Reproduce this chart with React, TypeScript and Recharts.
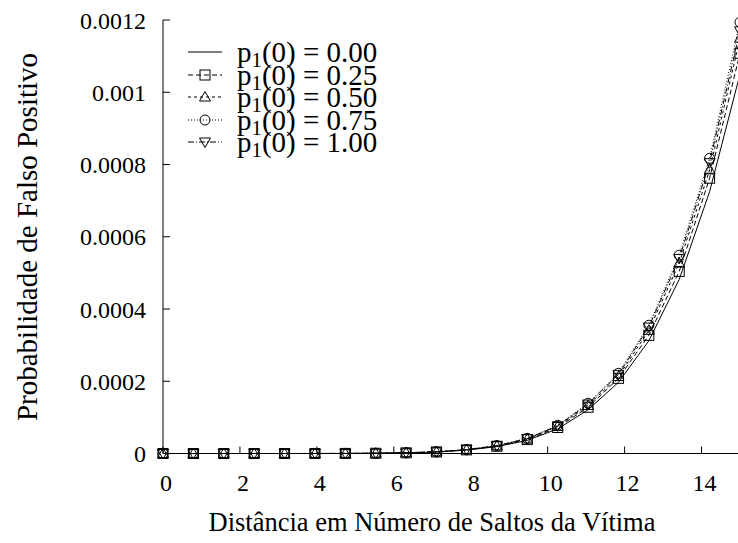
import { Label, Legend, Line, LineChart, XAxis, YAxis } from "recharts";

// distance (hops) at each sampled point
const hops = [
  0, 0.79, 1.58, 2.37, 3.16, 3.95, 4.74, 5.53, 6.32, 7.11, 7.89, 8.68, 9.47,
  10.26, 11.05, 11.84, 12.63, 13.42, 14.21, 15,
];

const p000 = [
  0, 0, 0, 0, 0, 0.00000004, 0.00000018, 0.0000006, 0.0000018, 0.000004,
  0.0000095, 0.000019, 0.0000365, 0.000068, 0.000121, 0.000197, 0.000312,
  0.000482, 0.000725, 0.00105,
];
const p025 = [
  0, 0, 0, 0, 0, 0.00000005, 0.0000002, 0.00000065, 0.0000019, 0.0000043,
  0.00001, 0.00002, 0.0000385, 0.000072, 0.000128, 0.000208, 0.000327,
  0.000504, 0.000762, 0.001108,
];
const p050 = [
  0, 0, 0, 0, 0, 0.00000005, 0.0000002, 0.0000007, 0.000002, 0.0000045,
  0.0000105, 0.000021, 0.00004, 0.000075, 0.000133, 0.000213, 0.000341,
  0.000527, 0.000785, 0.00115,
];
const p075 = [
  0, 0, 0, 0, 0, 0.00000005, 0.0000002, 0.0000007, 0.000002, 0.0000048,
  0.000011, 0.000022, 0.000042, 0.000078, 0.000139, 0.000222, 0.000355,
  0.000549, 0.000817, 0.001194,
];
const p100 = [
  0, 0, 0, 0, 0, 0.00000005, 0.0000002, 0.0000007, 0.000002, 0.0000047,
  0.0000108, 0.0000216, 0.0000412, 0.0000765, 0.000137, 0.000219, 0.00035,
  0.00054, 0.000805, 0.00117,
];

const xTicks = [0, 2, 4, 6, 8, 10, 12, 14];
const yTicks = [0, 0.0002, 0.0004, 0.0006, 0.0008, 0.001, 0.0012];

const data = hops.map((x, i) => ({
  x,
  p000: p000[i],
  p025: p025[i],
  p050: p050[i],
  p075: p075[i],
  p100: p100[i],
}));

const series = [
  { key: "p000", label: "0.00", dash: undefined, marker: "" },
  { key: "p025", label: "0.25", dash: "5 3", marker: "square" },
  { key: "p050", label: "0.50", dash: "3 3", marker: "triangle" },
  { key: "p075", label: "0.75", dash: "1 2", marker: "circle" },
  { key: "p100", label: "1.00", dash: "6 2 1 2", marker: "down" },
];

const FONT = "'Liberation Serif', 'Times New Roman', serif";

const Marker = ({ type, cx, cy }: { type: string; cx: number; cy: number }) => {
  const s = { fill: "none", stroke: "#000", strokeWidth: 1 };
  if (type === "square")
    return <rect x={cx - 5} y={cy - 5} width={10} height={10} {...s} />;
  if (type === "circle") return <circle cx={cx} cy={cy} r={5} {...s} />;
  if (type === "triangle")
    return (
      <polygon
        points={`${cx},${cy - 5.5} ${cx - 5.5},${cy + 4} ${cx + 5.5},${cy + 4}`}
        {...s}
      />
    );
  if (type === "down")
    return (
      <polygon
        points={`${cx},${cy + 5.5} ${cx - 5.5},${cy - 4} ${cx + 5.5},${cy - 4}`}
        {...s}
      />
    );
  return null;
};

const KeyBox = () => (
  <div style={{ fontFamily: FONT, fontSize: 29, color: "#000" }}>
    {series.map((s) => (
      <div
        key={s.key}
        style={{ display: "flex", alignItems: "center", height: 22.5 }}
      >
        <svg width={52} height={22} style={{ overflow: "visible" }}>
          <line
            x1={3}
            x2={37}
            y1={11}
            y2={11}
            stroke="#000"
            strokeWidth={1}
            strokeDasharray={s.dash}
          />
          <Marker type={s.marker} cx={20} cy={11} />
        </svg>
        <span style={{ lineHeight: "22.5px", whiteSpace: "nowrap" }}>
          p<sub style={{ fontSize: "0.72em", verticalAlign: "-0.25em", lineHeight: 0 }}>1</sub>
          (0) = {s.label}
        </span>
      </div>
    ))}
  </div>
);

export default function App() {
  return (
    <div
      style={{
        position: "absolute",
        left: 0,
        top: 0,
        width: 738,
        height: 543,
        overflow: "hidden",
        background: "#fff",
      }}
    >
      <LineChart
        width={742}
        height={543}
        data={data}
        margin={{ top: 20, right: 2, bottom: 0, left: 0 }}
      >
        <XAxis
          dataKey="x"
          type="number"
          domain={[0, 15]}
          ticks={xTicks}
          height={89.5}
          stroke="#000"
          tickSize={-7}
          tickMargin={27}
          tick={{ fill: "#000", fontSize: 24, fontFamily: FONT, dx: 3 }}
        >
          <Label
            content={() => (
              <text
                x={432}
                y={531}
                textAnchor="middle"
                fontSize={26.5}
                fontFamily={FONT}
                fill="#000"
              >
                Distância em Número de Saltos da Vítima
              </text>
            )}
          />
        </XAxis>
        <XAxis
          xAxisId="top"
          orientation="top"
          type="number"
          dataKey="x"
          domain={[0, 15]}
          ticks={xTicks}
          height={0}
          stroke="#000"
          tickSize={-7}
          tick={false}
        />
        <YAxis
          type="number"
          domain={[0, 0.0012]}
          ticks={yTicks}
          width={163}
          stroke="#000"
          tickSize={-7}
          tickMargin={24}
          tick={{ fill: "#000", fontSize: 24, fontFamily: FONT }}
        >
          <Label
            content={() => (
              <text
                x={0}
                y={0}
                transform="translate(37 237) rotate(-90)"
                textAnchor="middle"
                fontSize={29}
                fontFamily={FONT}
                fill="#000"
              >
                Probabilidade de Falso Positivo
              </text>
            )}
          />
        </YAxis>
        <YAxis
          yAxisId="right"
          orientation="right"
          type="number"
          domain={[0, 0.0012]}
          ticks={yTicks}
          width={0}
          stroke="#000"
          tickSize={-7}
          tick={false}
        />
        <Legend
          layout="vertical"
          align="center"
          verticalAlign="middle"
          wrapperStyle={{ top: 41, left: 185, width: "auto" }}
          content={() => <KeyBox />}
        />
        {series.map((s) => (
          <Line
            key={s.key}
            dataKey={s.key}
            name={s.label}
            stroke="#000"
            strokeWidth={1}
            strokeDasharray={s.dash}
            isAnimationActive={false}
            dot={
              s.marker
                ? (p: any) => (
                    <Marker
                      key={`${s.key}-${p.index}`}
                      type={s.marker}
                      cx={p.cx}
                      cy={p.cy}
                    />
                  )
                : false
            }
            activeDot={false}
          />
        ))}
      </LineChart>
    </div>
  );
}
